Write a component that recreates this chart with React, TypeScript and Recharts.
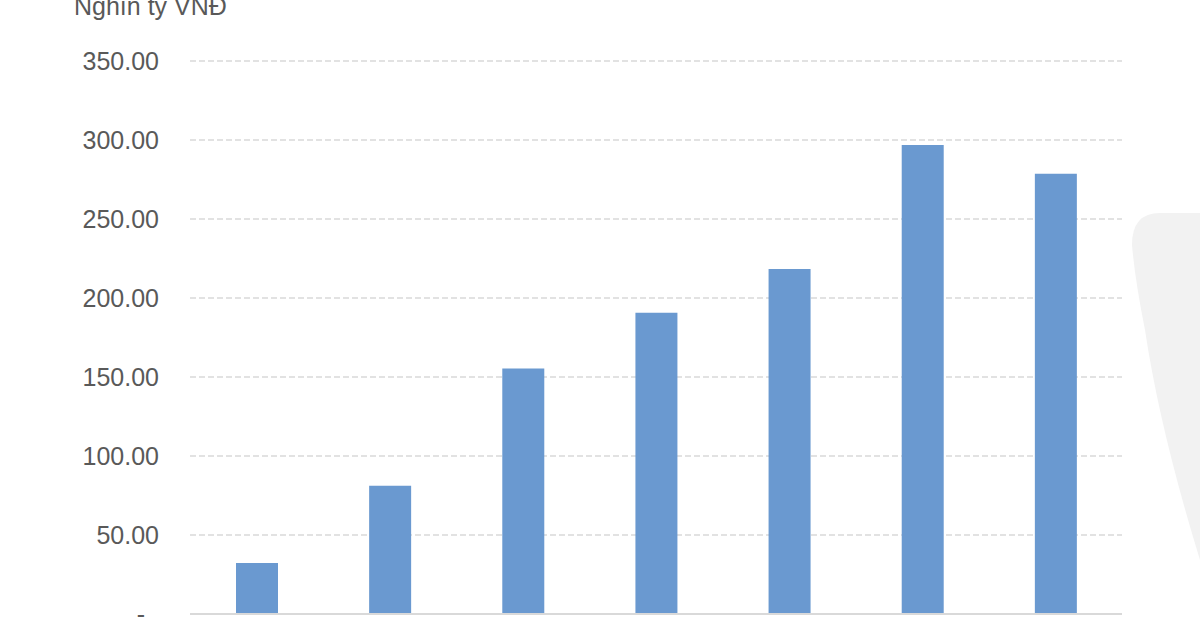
import { BarChart, Bar, XAxis, YAxis, CartesianGrid, Customized } from "recharts";

const years = ["2016", "2017", "2018", "2019", "2020", "2021", "2022"];
const values = [32.3, 81.2, 155.4, 190.6, 218.4, 296.9, 278.6];
const yTicks = [0, 50, 100, 150, 200, 250, 300, 350];

const data = years.map((year, i) => ({ year, value: values[i] }));

const GREY = "#595959";
const FONT = "'Liberation Sans', Arial, Helvetica, sans-serif";

function YTick(props: any) {
  const { x, y, payload } = props;
  const zero = payload.value === 0;
  return (
    <text
      x={zero ? x - 14 : x}
      y={y}
      dy="0.355em"
      textAnchor="end"
      fill={GREY}
      fontSize={25}
      fontFamily={FONT}
    >
      {zero ? "-" : payload.value.toFixed(2)}
    </text>
  );
}

function UnitLabel() {
  return (
    <text x={74} y={15} fill={GREY} fontSize={25} fontFamily={FONT}>
      Nghìn tỷ VNĐ
    </text>
  );
}

export default function App() {
  return (
    <div
      style={{
        position: "absolute",
        left: 0,
        top: 0,
        width: 1200,
        height: 630,
        overflow: "hidden",
        background: "#fff",
      }}
    >
      {/* faint watermark at the right edge */}
      <svg width={1200} height={630} style={{ position: "absolute", left: 0, top: 0 }}>
        <path
          d="M1132 245 Q1132 213 1160 213 L1200 213 L1200 560 Q1160 430 1145 330 Q1135 280 1132 245 Z"
          fill="#f2f2f2"
        />
      </svg>
      <div style={{ position: "absolute", left: 0, top: 0 }}>
        <BarChart
          width={1200}
          height={700}
          data={data}
          margin={{ top: 61, right: 78, bottom: 6, left: 0 }}
          barSize={42}
        >
          <CartesianGrid
            vertical={false}
            stroke="#d9d9d9"
            strokeWidth={1.5}
            strokeDasharray="6 3"
          />
          {/* category labels sit below the visible crop, as in the reference */}
          <XAxis
            dataKey="year"
            height={80}
            axisLine={{ stroke: "#d9d9d9", strokeWidth: 2 }}
            tickLine={false}
            tickMargin={45}
            tick={{ fill: GREY, fontSize: 25, fontFamily: FONT }}
          />
          <YAxis
            width={190}
            domain={[0, 350]}
            ticks={yTicks}
            axisLine={false}
            tickLine={false}
            tickSize={0}
            tickMargin={31}
            tick={<YTick />}
          />
          <Bar dataKey="value" fill="#6a99d0" isAnimationActive={false} />
          <Customized component={UnitLabel} />
        </BarChart>
      </div>
    </div>
  );
}
